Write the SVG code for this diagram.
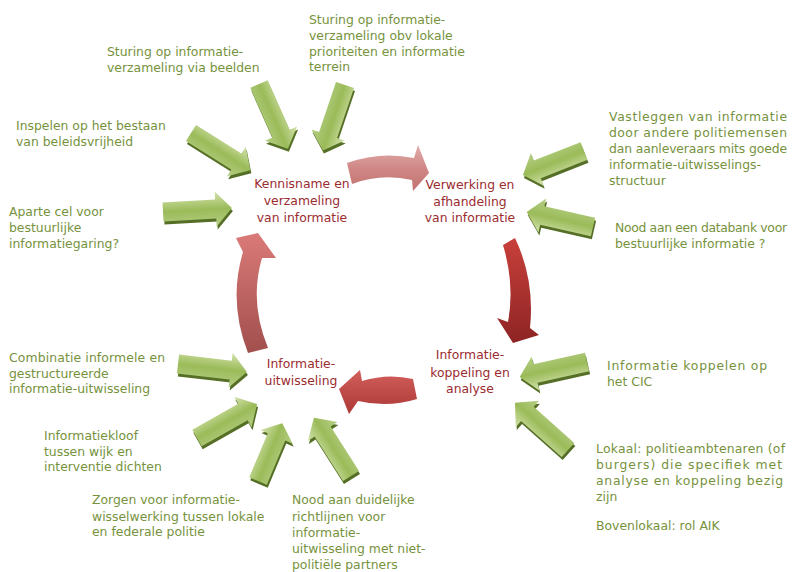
<svg xmlns="http://www.w3.org/2000/svg" xmlns:xlink="http://www.w3.org/1999/xlink" width="792" height="572" viewBox="0 0 792 572">
<defs>
<style>
text{font-family:"DejaVu Sans",sans-serif;font-size:12.4px}
.g{fill:#76923c}
.r{fill:#9b2c2f;text-anchor:middle}
.gsh{fill:#566f26}
.gf{fill:url(#gg)}
</style>
<linearGradient id="gg" x1="0" y1="0" x2="0" y2="1">
<stop offset="0" stop-color="#d3e3ad"/>
<stop offset="0.5" stop-color="#9bbb59"/>
<stop offset="1" stop-color="#b6cf86"/>
</linearGradient>
<linearGradient id="rt" x1="0" y1="0" x2="0" y2="1">
<stop offset="0" stop-color="#e2adac"/>
<stop offset="0.5" stop-color="#cf8886"/>
<stop offset="1" stop-color="#c27270"/>
</linearGradient>
<linearGradient id="rr" x1="0" y1="0" x2="0" y2="1">
<stop offset="0" stop-color="#c8403b"/>
<stop offset="1" stop-color="#8e2424"/>
</linearGradient>
<linearGradient id="rb" x1="0" y1="0" x2="0" y2="1">
<stop offset="0" stop-color="#d25f5c"/>
<stop offset="1" stop-color="#ad3835"/>
</linearGradient>
<linearGradient id="rl" x1="0" y1="0" x2="0" y2="1">
<stop offset="0" stop-color="#da7a78"/>
<stop offset="1" stop-color="#a14f4d"/>
</linearGradient>
<path id="ga" d="M0,-9.5 L52,-9.5 L52,-17.5 L68,0 L52,17.5 L52,9.5 L0,9.5 Z"/>
</defs>

<g id="connectors">
<path d="M347,163 Q380,151 414,158 L418,145 L429,173 L413,191 L412,180 Q381,173 352,184 Z" fill="url(#rt)"/>
<path d="M503,245 L515,238 Q535,280 530,328 L539,335 L513,343 L497,318 L508,322 Q515,285 503,245 Z" fill="url(#rr)"/>
<path d="M413,379 Q388,373 362,381 L360,370 L339,389 L349,414 L358,401 Q388,408 417,399 Z" fill="url(#rb)"/>
<path d="M248,353 Q228,302 243,252 L236,238 L258,233 L276,258 L262,258 Q249,302 268,348 Z" fill="url(#rl)"/>
</g>

<g id="input-arrows">
<use xlink:href="#ga" class="gsh" transform="translate(260,87) rotate(66) scale(1.044,1)"/>
<use xlink:href="#ga" class="gf" transform="translate(259,84) rotate(66) scale(1.044,1)"/>
<use xlink:href="#ga" class="gsh" transform="translate(346,88) rotate(108.7) scale(1.015,1)"/>
<use xlink:href="#ga" class="gf" transform="translate(345,85) rotate(108.7) scale(1.015,1)"/>
<use xlink:href="#ga" class="gsh" transform="translate(192,136) rotate(32.1) scale(1.03,1)"/>
<use xlink:href="#ga" class="gf" transform="translate(191,133) rotate(32.1) scale(1.03,1)"/>
<use xlink:href="#ga" class="gsh" transform="translate(164,215) rotate(-3.3) scale(1.015,1)"/>
<use xlink:href="#ga" class="gf" transform="translate(163,212) rotate(-3.3) scale(1.015,1)"/>
<use xlink:href="#ga" class="gsh" transform="translate(585,154) rotate(158.5) scale(0.965,1)"/>
<use xlink:href="#ga" class="gf" transform="translate(584,151) rotate(158.5) scale(0.965,1)"/>
<use xlink:href="#ga" class="gsh" transform="translate(594,230) rotate(192.8) scale(1,1)"/>
<use xlink:href="#ga" class="gf" transform="translate(593,227) rotate(192.8) scale(1,1)"/>
<use xlink:href="#ga" class="gsh" transform="translate(588,365) rotate(167.4) scale(1.015,1)"/>
<use xlink:href="#ga" class="gf" transform="translate(587,362) rotate(167.4) scale(1.015,1)"/>
<use xlink:href="#ga" class="gsh" transform="translate(569,453) rotate(-138.4) scale(1.044,1)"/>
<use xlink:href="#ga" class="gf" transform="translate(568,450) rotate(-138.4) scale(1.044,1)"/>
<use xlink:href="#ga" class="gsh" transform="translate(179,367) rotate(6.6) scale(1.02,1)"/>
<use xlink:href="#ga" class="gf" transform="translate(178,364) rotate(6.6) scale(1.02,1)"/>
<use xlink:href="#ga" class="gsh" transform="translate(198,441) rotate(-29.5) scale(1.015,1)"/>
<use xlink:href="#ga" class="gf" transform="translate(197,438) rotate(-29.5) scale(1.015,1)"/>
<use xlink:href="#ga" class="gsh" transform="translate(259,484) rotate(-67.2) scale(0.92,1)"/>
<use xlink:href="#ga" class="gf" transform="translate(258,481) rotate(-67.2) scale(0.92,1)"/>
<use xlink:href="#ga" class="gsh" transform="translate(352,479) rotate(-122.5) scale(1.015,1)"/>
<use xlink:href="#ga" class="gf" transform="translate(351,476) rotate(-122.5) scale(1.015,1)"/>
</g>

<g id="node-kennisname">
<text class="r" x="302" y="188">Kennisname en</text>
<text class="r" x="302" y="205">verzameling</text>
<text class="r" x="302" y="222">van informatie</text>
</g>
<g id="node-verwerking">
<text class="r" x="470" y="189">Verwerking en</text>
<text class="r" x="470" y="206">afhandeling</text>
<text class="r" x="470" y="222">van informatie</text>
</g>
<g id="node-koppeling">
<text class="r" x="470" y="359">Informatie-</text>
<text class="r" x="470" y="377">koppeling en</text>
<text class="r" x="470" y="393">analyse</text>
</g>
<g id="node-uitwisseling">
<text class="r" x="301" y="368">Informatie-</text>
<text class="r" x="301" y="385">uitwisseling</text>
</g>

<g id="note-beelden">
<text class="g" x="107" y="56">Sturing op informatie-</text>
<text class="g" x="107" y="72">verzameling via beelden</text>
</g>
<g id="note-lokale">
<text class="g" x="309" y="24">Sturing op informatie-</text>
<text class="g" x="309" y="40">verzameling obv lokale</text>
<text class="g" x="309" y="56">prioriteiten en informatie</text>
<text class="g" x="309" y="71">terrein</text>
</g>
<g id="note-inspelen">
<text class="g" x="16" y="130">Inspelen op het bestaan</text>
<text class="g" x="16" y="146">van beleidsvrijheid</text>
</g>
<g id="note-aparte">
<text class="g" x="9" y="216">Aparte cel voor</text>
<text class="g" x="9" y="232">bestuurlijke</text>
<text class="g" x="9" y="248">informatiegaring?</text>
</g>
<g id="note-vastleggen">
<text class="g" x="609" y="121" textLength="178">Vastleggen van informatie</text>
<text class="g" x="609" y="137" textLength="178">door andere politiemensen</text>
<text class="g" x="609" y="153" textLength="178">dan aanleveraars mits goede</text>
<text class="g" x="609" y="169">informatie-uitwisselings-</text>
<text class="g" x="609" y="185">structuur</text>
</g>
<g id="note-databank">
<text class="g" x="615" y="232" textLength="172">Nood aan een databank voor</text>
<text class="g" x="615" y="248">bestuurlijke informatie ?</text>
</g>
<g id="note-cic">
<text class="g" x="607" y="370" textLength="160">Informatie koppelen op</text>
<text class="g" x="607" y="386">het CIC</text>
</g>
<g id="note-lokaal">
<text class="g" x="596" y="453" textLength="189">Lokaal: politieambtenaren (of</text>
<text class="g" x="596" y="469" textLength="186">burgers) die specifiek met</text>
<text class="g" x="596" y="485" textLength="187">analyse en koppeling bezig</text>
<text class="g" x="596" y="501">zijn</text>
<text class="g" x="596" y="530">Bovenlokaal: rol AIK</text>
</g>
<g id="note-combinatie">
<text class="g" x="9" y="362" textLength="156">Combinatie informele en</text>
<text class="g" x="9" y="378">gestructureerde</text>
<text class="g" x="9" y="393">informatie-uitwisseling</text>
</g>
<g id="note-kloof">
<text class="g" x="44" y="440">Informatiekloof</text>
<text class="g" x="44" y="456">tussen wijk en</text>
<text class="g" x="44" y="471">interventie dichten</text>
</g>
<g id="note-zorgen">
<text class="g" x="92" y="504">Zorgen voor informatie-</text>
<text class="g" x="92" y="521">wisselwerking tussen lokale</text>
<text class="g" x="92" y="536">en federale politie</text>
</g>
<g id="note-richtlijnen">
<text class="g" x="292" y="504">Nood aan duidelijke</text>
<text class="g" x="292" y="521">richtlijnen voor</text>
<text class="g" x="292" y="537">informatie-</text>
<text class="g" x="292" y="553">uitwisseling met niet-</text>
<text class="g" x="292" y="569">politiële partners</text>
</g>
</svg>
